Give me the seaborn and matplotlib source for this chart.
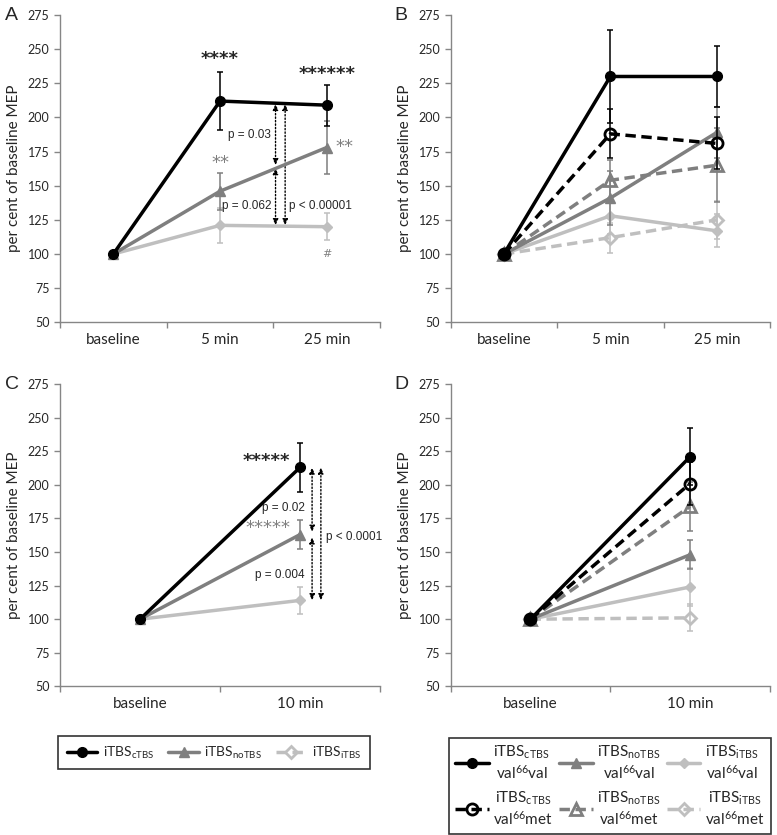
import matplotlib
matplotlib.use("Agg")
import matplotlib.pyplot as plt
from matplotlib.lines import Line2D
import seaborn as sns
import pandas as pd

sns.set_style("ticks")
plt.rcParams['font.family'] = ['Lato', 'DejaVu Sans']
plt.rcParams['mathtext.fontset'] = 'custom'
plt.rcParams['mathtext.rm'] = 'Lato'
plt.rcParams['mathtext.it'] = 'Lato'

# ---- data ----
times_ab = ["baseline", "5 min", "25 min"]
times_cd = ["baseline", "10 min"]

# panel A (all subjects, 3 time points)
a_ctbs = [100, 212, 209]
a_ctbs_err = [0, 21, 15]
a_notbs = [100, 146, 178]
a_notbs_err = [0, 13.5, 19.5]
a_itbs = [100, 121, 120]
a_itbs_err = [0, 13, 10]

# panel B (by genotype)
b_ctbs_vv = [100, 230, 230]
b_ctbs_vv_err = [0, 34, 22]
b_ctbs_vm = [100, 188, 181]
b_ctbs_vm_err = [0, 18, 19]
b_notbs_vv = [100, 141, 189]
b_notbs_vv_err = [0, 20, 19]
b_notbs_vm = [100, 154, 165]
b_notbs_vm_err = [0, 15, 27]
b_itbs_vv = [100, 128, 117]
b_itbs_vv_err = [0, 13, 12]
b_itbs_vm = [100, 112, 125]
b_itbs_vm_err = [0, 11, 14]

# panel C (all subjects, 2 time points)
c_ctbs = [100, 213]
c_ctbs_err = [0, 18]
c_notbs = [100, 163]
c_notbs_err = [0, 10.5]
c_itbs = [100, 114]
c_itbs_err = [0, 10]

# panel D (by genotype)
d_ctbs_vv = [100, 221]
d_ctbs_vv_err = [0, 21]
d_ctbs_vm = [100, 201]
d_ctbs_vm_err = [0, 16]
d_notbs_vv = [100, 148]
d_notbs_vv_err = [0, 11]
d_notbs_vm = [100, 184]
d_notbs_vm_err = [0, 18]
d_itbs_vv = [100, 124]
d_itbs_vv_err = [0, 14]
d_itbs_vm = [100, 101]
d_itbs_vm_err = [0, 10]

BLACK = "#000000"
GRAY = "#7f7f7f"
LIGHT = "#bfbfbf"
AXCOL = "#868686"

lab_c = r"iTBS$_{\mathrm{cTBS}}$"
lab_n = r"iTBS$_{\mathrm{noTBS}}$"
lab_i = r"iTBS$_{\mathrm{iTBS}}$"

styles = {
    "cvv": dict(color=BLACK, marker="o", ms=7, ls="-", mfc=BLACK),
    "cvm": dict(color=BLACK, marker="o", ms=8, ls=(0, (3, 1.6)), mfc="none", mew=2),
    "nvv": dict(color=GRAY, marker="^", ms=7, ls="-", mfc=GRAY),
    "nvm": dict(color=GRAY, marker="^", ms=8, ls=(0, (3, 1.6)), mfc="none", mew=2),
    "ivv": dict(color=LIGHT, marker="D", ms=5, ls="-", mfc=LIGHT),
    "ivm": dict(color=LIGHT, marker="D", ms=6, ls=(0, (3, 1.6)), mfc="none", mew=2),
}


def draw(ax, times, vals, errs, key, z):
    st = styles[key]
    df = pd.DataFrame({"t": range(len(times)), "mep": vals})
    ax.errorbar(df["t"], df["mep"], yerr=errs, fmt="none", ecolor=st["color"],
                elinewidth=1.1, capsize=2, capthick=1.1, zorder=z - 1)
    sns.lineplot(data=df, x="t", y="mep", ax=ax, color=st["color"], lw=2.5,
                 linestyle=st["ls"], marker=st["marker"], markersize=st["ms"],
                 markerfacecolor=st["mfc"], markeredgecolor=st["color"],
                 markeredgewidth=st.get("mew", 1), zorder=z, errorbar=None)


def style_axes(ax, times):
    n = len(times)
    ax.set_xlim(-0.5, n - 0.5)
    ax.set_ylim(50, 275)
    ax.set_yticks(range(50, 276, 25))
    ax.set_xticks(range(n))
    ax.set_xticklabels(times, fontsize=11)
    ax.set_xticks([i - 0.5 for i in range(n + 1)], minor=True)
    ax.tick_params(axis="x", which="major", length=0, pad=8)
    ax.tick_params(axis="x", which="minor", length=4, color=AXCOL, width=1)
    ax.tick_params(axis="y", length=4, color=AXCOL, width=1, labelsize=9)
    for s in ["top", "right"]:
        ax.spines[s].set_visible(False)
    for s in ["left", "bottom"]:
        ax.spines[s].set_color(AXCOL)
        ax.spines[s].set_linewidth(1)
    ax.set_xlabel("")
    ax.set_ylabel("per cent of baseline MEP", fontsize=11, labelpad=5)


def darrow(ax, x, y1, y2):
    ax.annotate("", xy=(x, y1), xytext=(x, y2),
                arrowprops=dict(arrowstyle="<|-|>,head_length=0.35,head_width=0.15",
                                color="black", lw=1, linestyle=(0, (1, 1.5)),
                                shrinkA=0, shrinkB=0))


fig = plt.figure(figsize=(7.77, 8.35), dpi=100)
axA = fig.add_axes([0.0772, 0.614, 0.412, 0.368])
axB = fig.add_axes([0.580, 0.614, 0.411, 0.368])
axC = fig.add_axes([0.0772, 0.178, 0.412, 0.362])
axD = fig.add_axes([0.580, 0.178, 0.411, 0.362])

# ---- A ----
draw(axA, times_ab, a_itbs, a_itbs_err, "ivv", 4)
draw(axA, times_ab, a_notbs, a_notbs_err, "nvv", 5)
draw(axA, times_ab, a_ctbs, a_ctbs_err, "cvv", 6)
style_axes(axA, times_ab)
axA.text(1, 236, "****", ha="center", va="bottom", fontsize=13, family="DejaVu Sans", weight="bold")
axA.text(2, 225, "******", ha="center", va="bottom", fontsize=13, family="DejaVu Sans", weight="bold")
axA.text(1, 160, "**", ha="center", va="bottom", fontsize=13, color=GRAY, family="DejaVu Sans")
axA.text(2.08, 172, "**", ha="left", va="bottom", fontsize=13, color=GRAY, family="DejaVu Sans")
axA.text(2, 100, "#", ha="center", va="center", fontsize=8, color=GRAY, family="DejaVu Sans")
darrow(axA, 1.52, 210, 165)
darrow(axA, 1.52, 163, 121)
darrow(axA, 1.61, 210, 121)
axA.text(1.48, 187, "p = 0.03", ha="right", va="center", fontsize=8.5, family="Liberation Sans")
axA.text(1.48, 135, "p = 0.062", ha="right", va="center", fontsize=8.5, family="Liberation Sans")
axA.text(1.65, 135, "p < 0.00001", ha="left", va="center", fontsize=8.5, family="Liberation Sans")

# ---- B ----
draw(axB, times_ab, b_itbs_vm, b_itbs_vm_err, "ivm", 4)
draw(axB, times_ab, b_itbs_vv, b_itbs_vv_err, "ivv", 4)
draw(axB, times_ab, b_notbs_vm, b_notbs_vm_err, "nvm", 5)
draw(axB, times_ab, b_notbs_vv, b_notbs_vv_err, "nvv", 5)
draw(axB, times_ab, b_ctbs_vm, b_ctbs_vm_err, "cvm", 6)
draw(axB, times_ab, b_ctbs_vv, b_ctbs_vv_err, "cvv", 7)
style_axes(axB, times_ab)

# ---- C ----
draw(axC, times_cd, c_itbs, c_itbs_err, "ivv", 4)
draw(axC, times_cd, c_notbs, c_notbs_err, "nvv", 5)
draw(axC, times_cd, c_ctbs, c_ctbs_err, "cvv", 6)
style_axes(axC, times_cd)
axC.text(0.94, 218, "*****", ha="right", va="center", fontsize=13, family="DejaVu Sans", weight="bold")
axC.text(0.94, 168, "*****", ha="right", va="center", fontsize=13, color=GRAY, family="DejaVu Sans")
darrow(axC, 1.075, 213, 165)
darrow(axC, 1.075, 161, 114)
darrow(axC, 1.13, 213, 114)
axC.text(1.03, 183, "p = 0.02", ha="right", va="center", fontsize=8.5, family="Liberation Sans")
axC.text(1.03, 133, "p = 0.004", ha="right", va="center", fontsize=8.5, family="Liberation Sans")
axC.text(1.16, 161, "p < 0.0001", ha="left", va="center", fontsize=8.5, family="Liberation Sans")

# ---- D ----
draw(axD, times_cd, d_itbs_vm, d_itbs_vm_err, "ivm", 4)
draw(axD, times_cd, d_itbs_vv, d_itbs_vv_err, "ivv", 4)
draw(axD, times_cd, d_notbs_vv, d_notbs_vv_err, "nvv", 5)
draw(axD, times_cd, d_notbs_vm, d_notbs_vm_err, "nvm", 5)
draw(axD, times_cd, d_ctbs_vm, d_ctbs_vm_err, "cvm", 6)
draw(axD, times_cd, d_ctbs_vv, d_ctbs_vv_err, "cvv", 7)
style_axes(axD, times_cd)

# panel letters
for lab, x, y in [("A", 0.006, 0.982), ("B", 0.508, 0.982), ("C", 0.006, 0.539), ("D", 0.508, 0.539)]:
    fig.text(x, y, lab, fontsize=14, family="Liberation Sans", va="center", ha="left")


def handle(key):
    st = styles[key]
    return Line2D([], [], color=st["color"], lw=2.5, linestyle=st["ls"], marker=st["marker"],
                  markersize=st["ms"], markerfacecolor=st["mfc"], markeredgecolor=st["color"],
                  markeredgewidth=st.get("mew", 1))


# left legend
leg1 = fig.legend([handle("cvv"), handle("nvv"), handle("ivm")], [lab_c, lab_n, lab_i],
                  loc="center", bbox_to_anchor=(0.2755, 0.0988), ncol=3, fontsize=10,
                  frameon=True, fancybox=False, edgecolor="black", handlelength=2.2,
                  columnspacing=1.0, handletextpad=0.4, borderpad=0.6)
leg1.get_frame().set_linewidth(1.2)

# right legend
sub = r"val$^{66}$"
hk = ["cvv", "cvm", "nvv", "nvm", "ivv", "ivm"]
labs = [lab_c + "\n" + sub + "val", lab_c + "\n" + sub + "met",
        lab_n + "\n" + sub + "val", lab_n + "\n" + sub + "met",
        lab_i + "\n" + sub + "val", lab_i + "\n" + sub + "met"]
leg2 = fig.legend([handle(k) for k in hk], labs, loc="center", bbox_to_anchor=(0.785, 0.059),
                  ncol=3, fontsize=11, frameon=True, fancybox=False, edgecolor="black",
                  handlelength=2.2, columnspacing=0.4, handletextpad=0.3, labelspacing=0.5,
                  borderpad=0.4)
leg2.get_frame().set_linewidth(1.2)
for t in leg2.get_texts():
    t.set_multialignment("center")

fig.savefig("out.png", dpi=100)
